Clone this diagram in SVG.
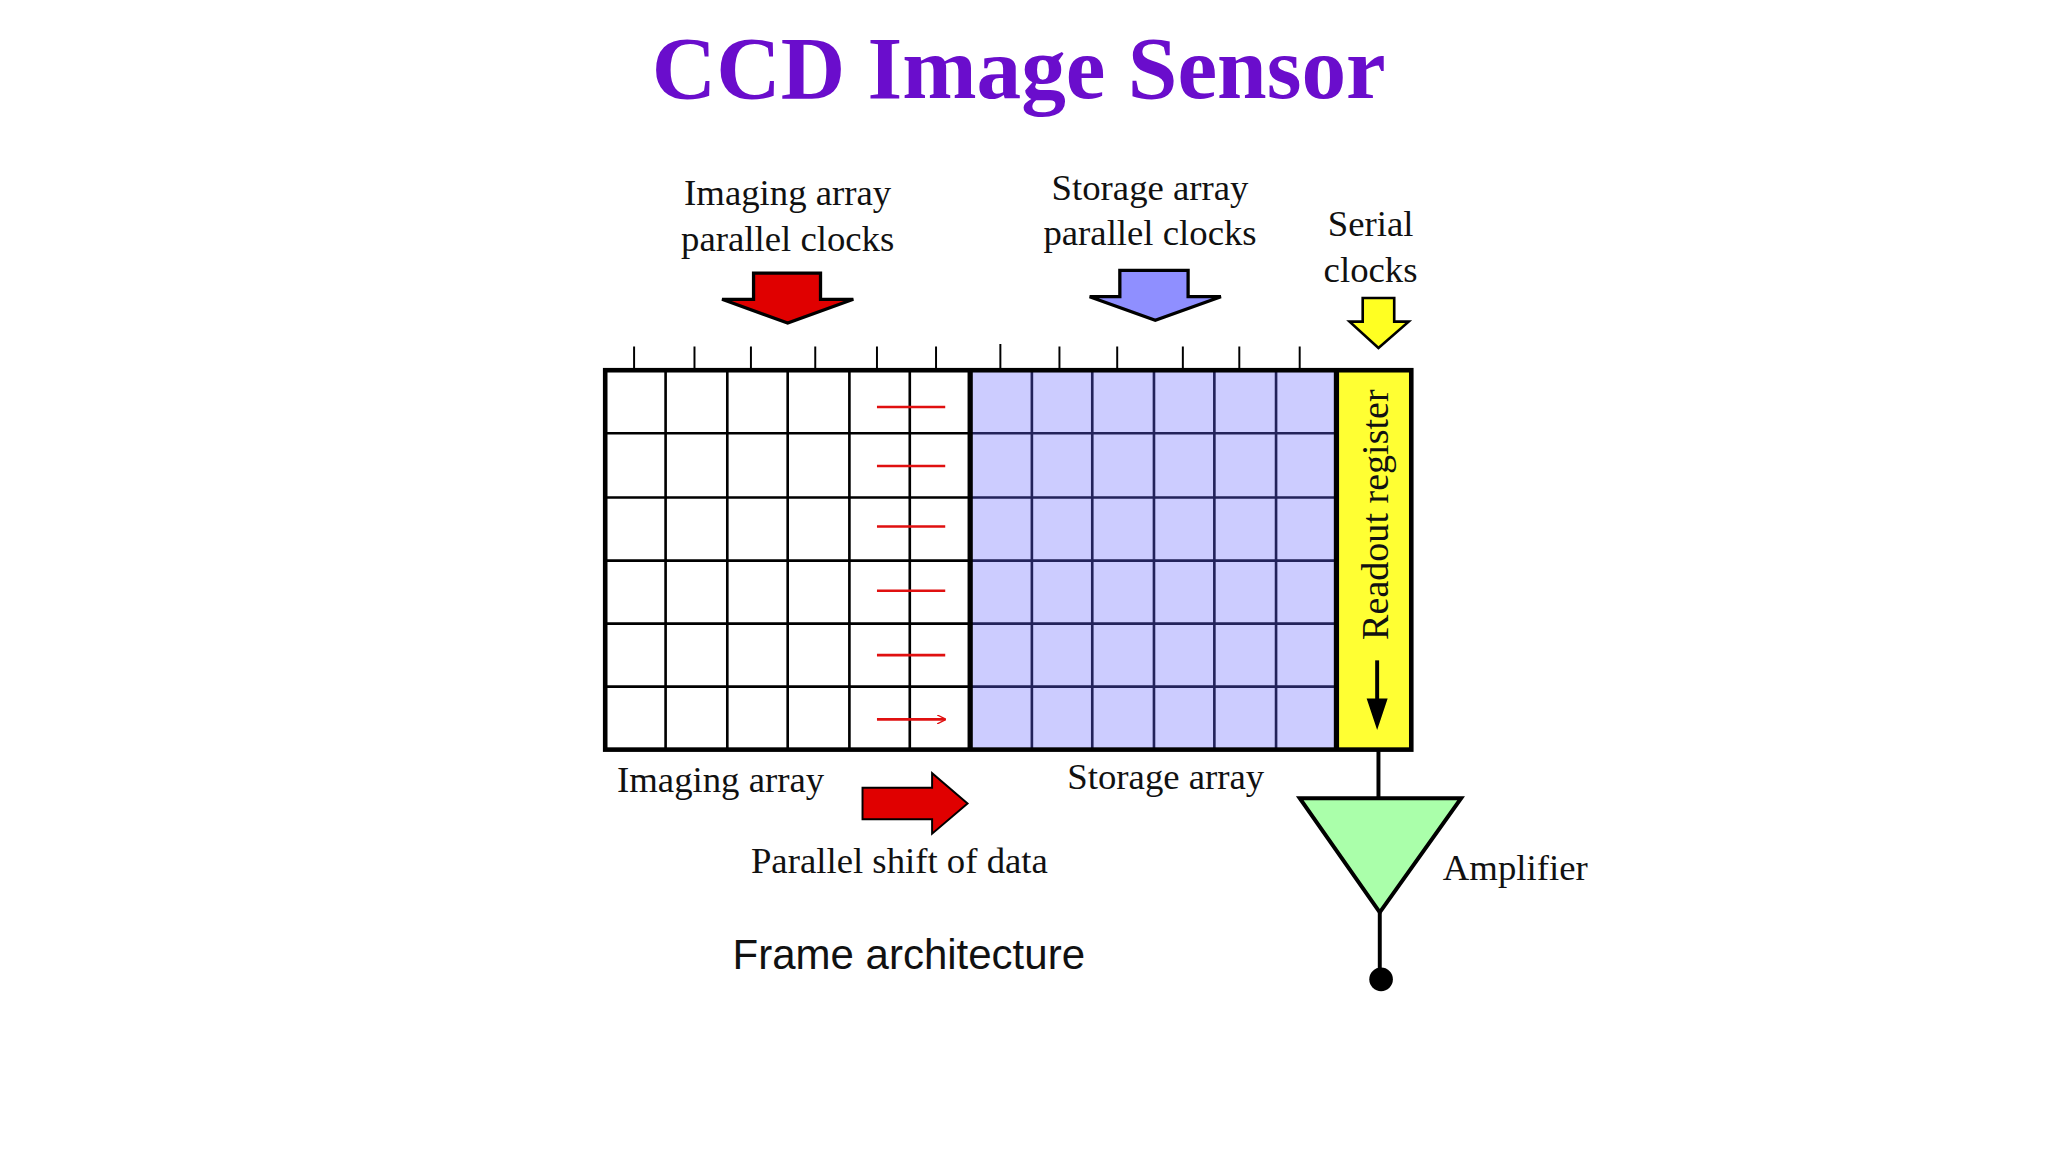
<svg xmlns="http://www.w3.org/2000/svg" width="2048" height="1152" viewBox="0 0 2048 1152">
<style>
.s{font-family:"Liberation Serif",serif;font-size:28px;fill:#111}
.g{stroke:#000;stroke-width:2;fill:none}
.gb{stroke:#22225a;stroke-width:2;fill:none}
.ra{stroke:#e01010;stroke-width:2;fill:none}
</style>
<defs>
<marker id="rh" viewBox="0 0 10 10" refX="9" refY="5" markerWidth="7" markerHeight="7" orient="auto" markerUnits="userSpaceOnUse"><path d="M0,0 L10,5 L0,10" fill="none" stroke="#e01010" stroke-width="1.5"/></marker>
</defs>
<rect width="2048" height="1152" fill="#fff"/>
<g transform="scale(1.31282)">
<text x="776" y="75" text-anchor="middle" style="font-family:'Liberation Serif',serif;font-weight:bold;font-size:68px;fill:#6a0dcc">CCD Image Sensor</text>
<g id="label-imaging-clocks"><text class="s" x="600" y="156" text-anchor="middle">Imaging array</text><text class="s" x="600" y="191" text-anchor="middle">parallel clocks</text>
<path d="M574,208 H625 V228 H650 L600,246 L550,228 H574 Z" fill="#e00000" stroke="#000" stroke-width="2.5"/></g>
<g id="label-storage-clocks"><text class="s" x="876" y="152" text-anchor="middle">Storage array</text><text class="s" x="876" y="187" text-anchor="middle">parallel clocks</text>
<path d="M853,206 H905 V226 H930 L880,244 L830,226 H853 Z" fill="#8f8fff" stroke="#000" stroke-width="2.5"/></g>
<g id="label-serial"><text class="s" x="1044" y="180" text-anchor="middle">Serial</text><text class="s" x="1044" y="215" text-anchor="middle">clocks</text>
<path d="M1038,227 H1062 V245 H1073 L1050,265 L1028,245 H1038 Z" fill="#ffff22" stroke="#000" stroke-width="2"/></g>
<g id="ticks" stroke="#000" stroke-width="1.5">
<path d="M483,264V282M529,264V282M572,264V282M621,264V282M668,264V282M713,264V282M762,262V282M807,264V282M851,264V282M901,264V282M944,264V282M990,264V282"/></g>
<g id="imaging-array">
<rect x="461" y="282" width="278" height="289" fill="#fff"/>
<path class="g" d="M507,282V571M554,282V571M600,282V571M647,282V571M693,282V571M461,330H739M461,379H739M461,427H739M461,475H739M461,523H739"/>
</g>
<g id="storage-array">
<rect x="739" y="282" width="279" height="289" fill="#ccccff"/>
<path class="gb" d="M786,282V571M832,282V571M879,282V571M925,282V571M972,282V571M739,330H1018M739,379H1018M739,427H1018M739,475H1018M739,523H1018"/>
</g>
<g id="readout-register">
<rect x="1018" y="282" width="57" height="289" fill="#ffff33"/>
<text class="s" transform="translate(1057,392) rotate(-90)" text-anchor="middle" style="font-size:29px">Readout register</text>
<path d="M1049,503V535" stroke="#000" stroke-width="3"/><path d="M1041,532H1057L1049,556Z" fill="#000"/>
</g>
<g id="frame" fill="none" stroke="#000">
<rect x="461" y="282" width="614" height="289" stroke-width="3.5"/>
<path d="M739,282V571M1018,282V571" stroke-width="4"/>
</g>
<g id="connectors">
<path class="ra" marker-end="url(#rh)" d="M668,310H720M668,355H720M668,401H720M668,450H720M668,499H720M668,548H720"/>
<path d="M1050,571V608M1051,695V746" stroke="#000" stroke-width="3"/>
</g>
<g id="amplifier"><path d="M990,608H1113L1051,695Z" fill="#aaffaa" stroke="#000" stroke-width="3"/>
<circle cx="1052" cy="746" r="9" fill="#000"/><text class="s" x="1099" y="670">Amplifier</text></g>
<g id="bottom-labels">
<text class="s" x="470" y="603">Imaging array</text>
<text class="s" x="813" y="601">Storage array</text>
<path d="M657,600H710V589L737,612L710,635V624H657Z" fill="#e00000" stroke="#000" stroke-width="1.5"/>
<text class="s" x="572" y="665">Parallel shift of data</text>
<text x="558" y="738" style="font-family:'Liberation Sans',sans-serif;font-size:32px;fill:#111">Frame architecture</text>
</g>
</g>
</svg>
